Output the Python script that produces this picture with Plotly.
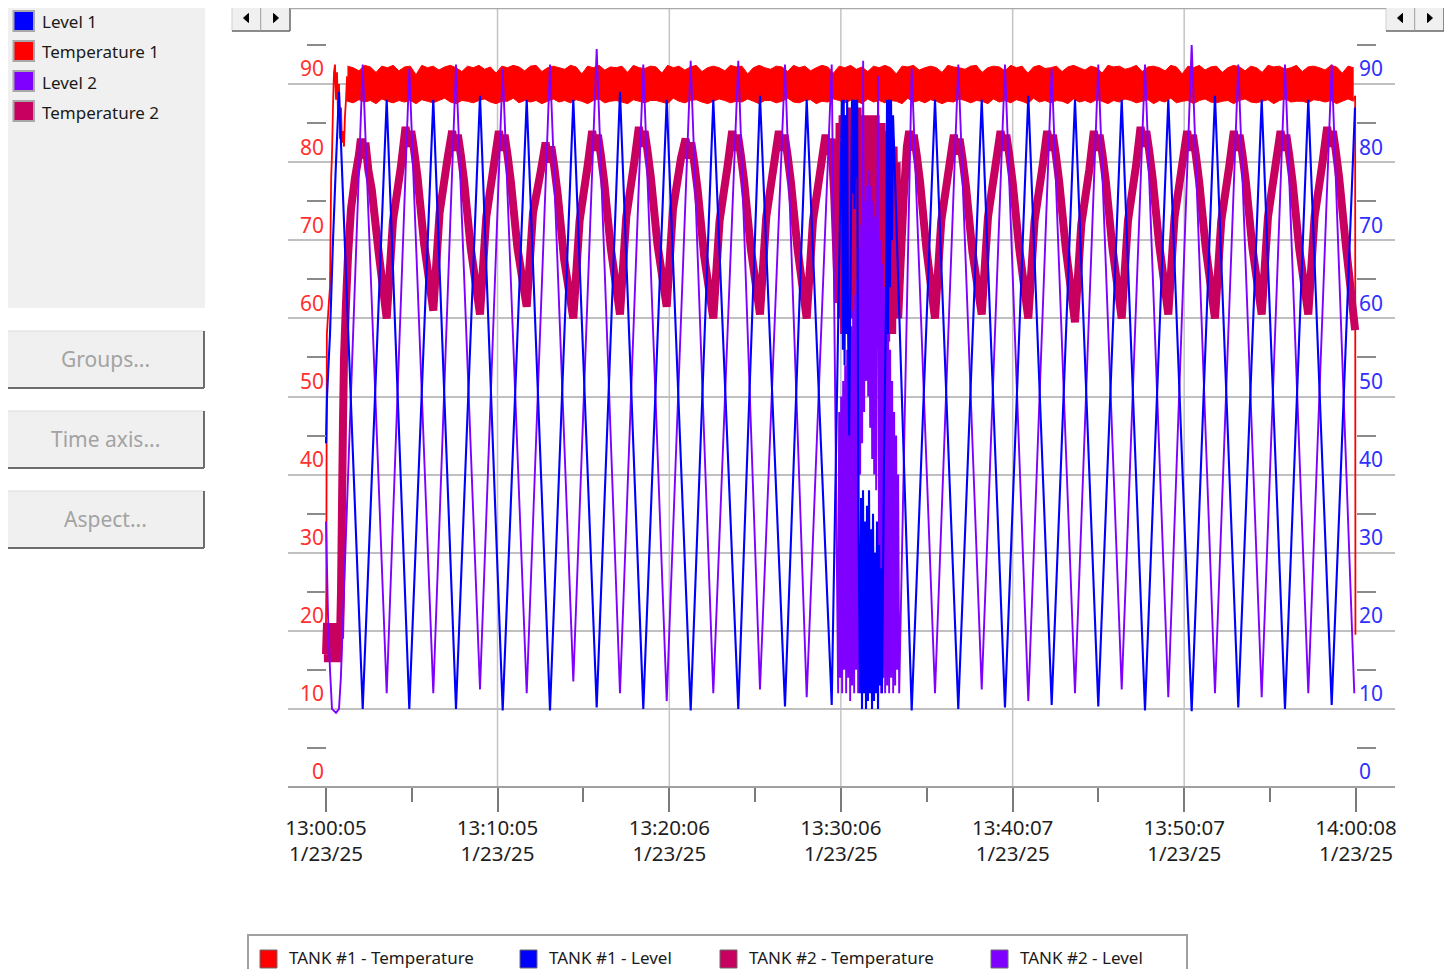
import plotly.graph_objects as go
import pandas as pd

# ---------------- data ----------------
BASE_TIME = pd.Timestamp("2025-01-23 13:00:05")

tick_secs = [0, 600, 1201, 1801, 2402, 3002, 3603]
tick_clock = ["13:00:05", "13:10:05", "13:20:06", "13:30:06", "13:40:07", "13:50:07", "14:00:08"]
tick_date = "1/23/25"
minor_tick_secs = [300, 900.5, 1501, 2101.5, 2702, 3302.5]
y_ticks = [0, 10, 20, 30, 40, 50, 60, 70, 80, 90]
y_minor_ticks = [5, 15, 25, 35, 45, 55, 65, 75, 85, 95]

panel_names = ["Level 1", "Temperature 1", "Level 2", "Temperature 2"]
bottom_names = ["TANK #1 - Temperature", "TANK #1 - Level", "TANK #2 - Temperature", "TANK #2 - Level"]
button_labels = ["Groups...", "Time axis...", "Aspect..."]

# Level 1 (seconds after 13:00:05, value)
level1_samples = [
    (0, 44), (3.5, 50), (14, 58), (24.5, 70), (35, 80), (45.5, 89),
    (128.4, 10), (212.3, 88), (291.4, 10), (375.3, 88), (454.7, 10), (538.7, 88.5),
    (618.1, 9.8), (702.1, 88), (783.6, 9.8), (865.1, 88), (946.9, 10.2), (1028.4, 89),
    (1109.9, 10), (1191.8, 88), (1275.7, 9.8), (1354.8, 88), (1442.2, 10), (1518.1, 88.5),
    (1605.6, 10.3), (1681.5, 88), (1769.0, 10.5),
    (1805, 88), (1808, 56), (1811, 88), (1814, 54), (1817, 86), (1820, 58), (1823, 88), (1826, 60),
    (1830, 45), (1840, 88), (1843, 76), (1846, 88), (1849, 74), (1852, 88), (1855, 78), (1858, 88),
    (1862, 36), (1868, 12), (1871.5, 37), (1875, 10),
    (1878.5, 38), (1882, 12), (1885.5, 34), (1889, 10), (1892.5, 36), (1896, 11), (1899.5, 38),
    (1903, 12), (1906.5, 33), (1910, 10), (1913.5, 35), (1917, 11), (1920.5, 30), (1924, 12),
    (1927.5, 34), (1931, 10), (1934.5, 31), (1938, 13), (1941.5, 28), (1945, 12), (1952, 42),
    (1959, 62), (1962.5, 88), (1966, 58), (1969.5, 88), (1973, 64), (1976.5, 88), (1980, 70),
    (1983.5, 86),
    (2048.8, 9.8), (2130.3, 88), (2211.8, 10), (2293.7, 88), (2375.1, 10.2), (2456.7, 88.5),
    (2538.5, 10.5), (2620.0, 88), (2701.5, 10.3), (2783.4, 88), (2864.9, 9.8), (2946.4, 88),
    (3028.2, 9.7), (3109.7, 88.5), (3191.2, 10.2), (3273.1, 88), (3354.6, 10), (3436.1, 88),
    (3518.0, 10.5), (3599.5, 87),
]

# Level 2
level2_samples = [
    (0, 34), (7, 22), (14, 15), (21, 10), (35, 9.5), (45.5, 10), (52, 14),
    (128.4, 92.5), (212.3, 12), (291.4, 92), (375.3, 12), (454.7, 92.5), (538.7, 12.5),
    (618.1, 92), (702.1, 12), (783.6, 92.5), (865.1, 13.5), (946.9, 94.5), (1028.4, 12),
    (1109.9, 92.5), (1191.8, 11), (1275.7, 93), (1354.8, 12), (1442.2, 93), (1518.1, 12.5),
    (1605.6, 92.5), (1681.5, 11.5), (1769.0, 92.5),
    (1784, 40), (1791.5, 12), (1795, 48), (1798.5, 14), (1802, 50), (1805.5, 12), (1809, 52),
    (1812.5, 15), (1816, 54), (1819.5, 12), (1823, 56), (1826.5, 14), (1830, 57), (1833.5, 11),
    (1837, 59), (1840.5, 13), (1844, 61), (1847.5, 12), (1851, 63), (1854.5, 15), (1858, 65),
    (1861.5, 12), (1865, 69), (1868.5, 40), (1872, 72), (1875.5, 44), (1879, 93), (1882.5, 48),
    (1886, 75), (1889.5, 52), (1893, 77), (1896.5, 50), (1900, 79), (1903.5, 46), (1907, 77),
    (1910.5, 42), (1914, 75), (1917.5, 40), (1921, 73), (1924.5, 38), (1928, 72), (1931.5, 91),
    (1935, 15), (1938.5, 70), (1942, 12), (1945.5, 67), (1949, 14), (1952.5, 64), (1956, 12),
    (1959.5, 62), (1963, 13), (1966.5, 60), (1970, 12), (1973.5, 56), (1977, 14), (1980.5, 52),
    (1984, 12), (1987.5, 48), (1991, 13), (1994.5, 45), (1998, 15), (2001.5, 40), (2005, 12),
    (2048.8, 92), (2130.3, 12), (2211.8, 92.5), (2293.7, 12.5), (2375.1, 92.5), (2456.7, 11),
    (2538.5, 92), (2620.0, 12), (2701.5, 92.5), (2783.4, 12.5), (2864.9, 92.5), (2946.4, 11.5),
    (3028.2, 95), (3109.7, 12), (3191.2, 92.5), (3273.1, 11.5), (3354.6, 92.5), (3436.1, 12),
    (3518.0, 92.5), (3597, 12),
]

# Temperature 2
temp2_samples = [
    (0, 17), (3.5, 21), (7, 16), (10.5, 20.5), (14, 16), (17.5, 21), (21, 16.5), (24.5, 20),
    (28, 16), (31.5, 21), (35, 17), (38.5, 20.5), (42, 16), (45.5, 21), (49, 19), (52.5, 25),
    (56, 36), (59.5, 47), (63, 55), (70, 62), (77, 68), (87.5, 74), (101.5, 78), (115.5, 81),
    (122, 83), (130, 80.5), (138, 82.5), (148, 79), (160, 76.5), (184, 68.5),
    (212.3, 60), (234.3, 72.5), (262.3, 79.5), (278.3, 84.5), (288.3, 82), (298.3, 84), (308.3, 81.5), (320.3, 78), (343.3, 69.5),
    (375.3, 61), (397.3, 73.5), (425.3, 80.5), (441.3, 84), (451.3, 81.5), (461.3, 83.5), (471.3, 81), (483.3, 77.5), (506.3, 69),
    (538.7, 60.5), (560.7, 73), (588.7, 80), (604.7, 84), (614.7, 81.5), (624.7, 83.5), (634.7, 81), (646.7, 77.5), (669.7, 69),
    (702.1, 61.5), (724.1, 73.5), (752.1, 79), (768.1, 82.5), (778.1, 80), (788.1, 82), (798.1, 79.5), (810.1, 76), (833.1, 67.5),
    (865.1, 60), (887.1, 72.5), (915.1, 79.5), (931.1, 84), (941.1, 81.5), (951.1, 83.5), (961.1, 81), (973.1, 77.5), (996.1, 69),
    (1028.4, 60.5), (1050.4, 73), (1078.4, 80), (1094.4, 84.5), (1104.4, 82), (1114.4, 84), (1124.4, 81.5), (1136.4, 78), (1159.4, 69.5),
    (1191.8, 61.5), (1213.8, 74), (1241.8, 80.5), (1257.8, 83), (1267.8, 80.5), (1277.8, 82.5), (1287.8, 80), (1299.8, 76.5), (1322.8, 68),
    (1354.8, 60), (1376.8, 72.5), (1404.8, 79.5), (1420.8, 84), (1430.8, 81.5), (1440.8, 83.5), (1450.8, 81), (1462.8, 77.5), (1485.8, 69),
    (1518.1, 60.5), (1540.1, 73), (1568.1, 80), (1584.1, 84), (1594.1, 81.5), (1604.1, 83.5), (1614.1, 81), (1626.1, 77.5), (1649.1, 69),
    (1681.5, 60), (1703.5, 72.5), (1731.5, 79.5), (1747.5, 83.5), (1757.5, 81), (1767.5, 83), (1777.5, 76),
    (1791.5, 62), (1796.5, 85), (1802, 60), (1807, 86), (1812.5, 58), (1817.5, 86), (1823, 62), (1828, 86),
    (1833.5, 60), (1838.5, 87), (1844, 63), (1849, 86), (1854.5, 61), (1859.5, 87), (1865, 64), (1870, 86),
    (1875.5, 62), (1880.5, 86), (1886, 66), (1891, 86), (1896.5, 63), (1901.5, 86), (1907, 60), (1912, 85),
    (1917.5, 62), (1922.5, 86), (1928, 59), (1933, 85), (1938.5, 63), (1943.5, 85), (1949, 60), (1954, 84),
    (1959.5, 57), (1964.5, 84), (1970, 61), (1975, 83), (1980.5, 58), (1985.5, 82), (1991, 62), (1996, 80),
    (2001.5, 60), (2008.5, 66),
    (2020, 75), (2032, 82), (2040, 84), (2048, 81.5), (2056, 83.5), (2066, 81), (2078, 77.5), (2100, 69),
    (2130.3, 60), (2152.3, 72.5), (2180.3, 79.5), (2196.3, 83.5), (2206.3, 81), (2216.3, 83), (2226.3, 80.5), (2238.3, 77), (2261.3, 68.5),
    (2293.7, 60.5), (2315.7, 73), (2343.7, 80), (2359.7, 84), (2369.7, 81.5), (2379.7, 83.5), (2389.7, 81), (2401.7, 77.5), (2424.7, 69),
    (2456.7, 60), (2478.7, 72.5), (2506.7, 79.5), (2522.7, 84), (2532.7, 81.5), (2542.7, 83.5), (2552.7, 81), (2564.7, 77.5), (2587.7, 69),
    (2620.0, 59.5), (2642, 72), (2670, 79), (2686, 84), (2696, 81.5), (2706, 83.5), (2716, 81), (2728, 77.5), (2751, 69),
    (2783.4, 60), (2805.4, 72.5), (2833.4, 79.5), (2849.4, 84.5), (2859.4, 82), (2869.4, 84), (2879.4, 81.5), (2891.4, 78), (2914.4, 69.5),
    (2946.4, 60.5), (2968.4, 73), (2996.4, 80), (3012.4, 84), (3022.4, 81.5), (3032.4, 83.5), (3042.4, 81), (3054.4, 77.5), (3077.4, 69),
    (3109.7, 60), (3131.7, 72.5), (3159.7, 79.5), (3175.7, 84), (3185.7, 81.5), (3195.7, 83.5), (3205.7, 81), (3217.7, 77.5), (3240.7, 69),
    (3273.1, 60.5), (3295.1, 73), (3323.1, 80), (3339.1, 84), (3349.1, 81.5), (3359.1, 83.5), (3369.1, 81), (3381.1, 77.5), (3404.1, 69),
    (3436.1, 60.5), (3458.1, 73), (3486.1, 80), (3502.1, 84.5), (3512.1, 82), (3522.1, 84), (3532.1, 81.5), (3544.1, 78), (3567.1, 69.5),
    (3600, 58.5),
]

# Temperature 1: start-up, steady band (sampled every 20 s), shutdown
temp1_start = [
    (0, 21), (1, 25), (3, 58), (10, 62), (14, 64), (18, 78), (21, 81), (25, 88), (28, 91.5),
    (31.5, 92.5), (35, 88), (38.5, 91.5), (42, 86), (45.5, 90), (49, 83), (52.5, 87), (56, 82.5),
    (59.5, 84), (63, 82), (66.5, 86), (70, 88), (73.5, 91), (75, 87.8),
]
temp1_band_secs = list(range(75, 3600, 20))
temp1_band_high = [
    92.3, 92.1, 91.7, 92.4, 92.2, 91.5, 92.3, 92.1, 92.4, 91.7,
    92.2, 92.3, 91.2, 92.4, 92.1, 92.3, 91.8, 92.2, 92.4, 92.1,
    91.6, 92.3, 92.1, 92.4, 91.9, 92.2, 91.4, 92.3, 92.1, 92.4,
    92.2, 91.7, 92.3, 92.4, 91.6, 92.1, 92.3, 92.1, 91.9, 92.4,
    92.2, 91.3, 92.3, 92.1, 92.4, 91.8, 92.2, 92.1, 92.3, 91.5,
    92.4, 92.1, 92.0, 92.3, 92.2, 91.4, 92.4, 92.1, 92.3, 91.8,
    92.2, 92.4, 91.6, 92.1, 92.3, 92.1, 91.7, 92.4, 92.2, 92.3,
    91.3, 92.1, 92.4, 92.1, 91.9, 92.3, 92.2, 91.6, 92.4, 92.1,
    92.3, 91.7, 92.1, 92.4, 92.2, 91.4, 92.3, 92.1, 92.4, 91.9,
    92.2, 91.6, 92.3, 92.1, 92.4, 92.1, 91.3, 92.3, 92.2, 92.4,
    91.8, 92.1, 92.3, 92.1, 91.5, 92.4, 92.2, 92.1, 91.9, 92.3,
    92.4, 91.5, 92.1, 92.3, 92.2, 91.7, 92.4, 92.1, 92.3, 91.4,
    92.2, 92.4, 92.0, 92.1, 92.3, 91.6, 92.2, 92.4, 92.1, 91.8,
    92.3, 92.1, 91.4, 92.4, 92.2, 92.3, 91.9, 92.1, 92.4, 91.6,
    92.2, 92.3, 92.1, 91.7, 92.4, 92.2, 91.3, 92.3, 92.1, 92.4,
    91.8, 92.2, 92.3, 91.5, 92.1, 92.4, 92.2, 91.7, 92.3, 92.1,
    91.5, 92.4, 92.2, 92.3, 91.9, 92.1, 92.4, 91.6, 92.2, 92.3,
    92.1, 91.8, 92.4, 92.2, 91.4, 92.3, 92.1,
]
temp1_band_low = [
    87.8, 87.6, 88.0, 87.7, 87.9, 87.5, 88.1, 87.8, 87.6, 87.9,
    87.7, 87.9, 87.5, 88.0, 87.8, 87.6, 87.9, 88.2, 87.7, 87.5,
    87.9, 87.8, 87.6, 87.9, 88.1, 87.7, 87.5, 87.8, 87.8, 88.2,
    87.6, 87.9, 87.7, 87.9, 87.5, 87.8, 88.1, 87.7, 87.9, 87.6,
    88.0, 87.8, 87.5, 87.9, 88.1, 87.6, 87.8, 87.9, 87.7, 87.5,
    88.0, 87.8, 87.6, 87.9, 87.9, 87.7, 87.5, 88.2, 87.8, 87.6,
    87.9, 88.0, 87.7, 87.5, 87.8, 88.1, 87.9, 87.6, 87.8, 87.7,
    88.1, 87.8, 87.5, 87.9, 87.9, 87.6, 87.8, 88.2, 87.7, 87.6,
    87.9, 88.0, 87.5, 87.8, 87.7, 88.1, 87.9, 87.6, 87.9, 87.8,
    87.5, 88.1, 87.7, 87.9, 87.6, 87.9, 87.8, 87.5, 88.2, 87.7,
    87.9, 87.6, 88.0, 87.8, 87.5, 87.8, 87.7, 88.1, 87.9, 87.6,
    87.9, 87.8, 87.5, 88.1, 87.7, 87.9, 87.6, 88.0, 87.8, 87.5,
    88.2, 87.7, 87.9, 87.6, 87.9, 87.8, 87.5, 88.1, 87.7, 87.9,
    87.6, 88.0, 87.8, 87.5, 87.9, 87.7, 88.1, 87.9, 87.6, 87.8,
    88.0, 87.5, 87.9, 87.7, 88.2, 87.6, 87.8, 87.9, 87.5, 87.9,
    88.1, 87.7, 87.6, 87.8, 87.9, 87.5, 87.9, 88.1, 87.7, 87.6,
    87.8, 88.0, 87.5, 87.9, 88.1, 87.7, 87.8, 87.8, 87.6, 88.0,
    87.9, 87.7, 87.9, 87.5, 87.8, 88.1, 87.8,
]
temp1_end = [(3595, 88.0), (3600, 88.5), (3601, 19.5)]

# ---------------- styling ----------------
BLUE, RED, PURPLE, MAGENTA = "#0000FF", "#FF0000", "#8000FF", "#C80060"
FONT = "Noto Sans"

OFF = 8                      # page margin of the html body
FIG_W, FIG_H = 1452 - 2 * OFF, 977 - 2 * OFF
L, R, T, B = 288, 1395, 8, 787   # plot area in page pixels
SEC_PER_PX = 3603 / 1030.0
X0_PX = 326


def ts(secs):
    return [BASE_TIME + pd.Timedelta(seconds=float(s)) for s in secs]


def split(samples):
    return ts([s for s, _ in samples]), [v for _, v in samples]


def px(x):
    return (x - L) / (R - L)


def py(y):
    return (B - y) / (B - T)


fig = go.Figure()

# Temperature 1 (red)
x, y = split(temp1_start)
fig.add_trace(go.Scatter(x=x, y=y, mode="lines", line=dict(color=RED, width=1.8, simplify=False),
                         hoverinfo="skip", yaxis="y"))
fig.add_trace(go.Scatter(x=ts(temp1_band_secs), y=temp1_band_low, mode="lines",
                         line=dict(color=RED, width=1, simplify=False), hoverinfo="skip", yaxis="y"))
fig.add_trace(go.Scatter(x=ts(temp1_band_secs), y=temp1_band_high, mode="lines", fill="tonexty",
                         fillcolor=RED, line=dict(color=RED, width=1, simplify=False),
                         hoverinfo="skip", yaxis="y"))
x, y = split(temp1_end)
fig.add_trace(go.Scatter(x=x, y=y, mode="lines", line=dict(color=RED, width=1.8, simplify=False),
                         hoverinfo="skip", yaxis="y"))

# Temperature 2 (magenta)
x, y = split(temp2_samples)
fig.add_trace(go.Scatter(x=x, y=y, mode="lines", name="Temperature 2",
                         line=dict(color=MAGENTA, width=8, simplify=False), hoverinfo="skip", yaxis="y"))

# Level 2 (purple) and Level 1 (blue)
x, y = split(level2_samples)
fig.add_trace(go.Scatter(x=x, y=y, mode="lines", name="Level 2",
                         line=dict(color=PURPLE, width=1.9, simplify=False), hoverinfo="skip", yaxis="y2"))
x, y = split(level1_samples)
fig.add_trace(go.Scatter(x=x, y=y, mode="lines", name="Level 1",
                         line=dict(color=BLUE, width=2.1, simplify=False), hoverinfo="skip", yaxis="y2"))

x_left = -(X0_PX - L) * SEC_PER_PX
x_right = 3603 + (R - 1356) * SEC_PER_PX
y_top = (B - T) / 7.81

fig.update_layout(
    width=FIG_W, height=FIG_H,
    margin=dict(l=L - OFF, r=FIG_W - (R - OFF), t=T - OFF, b=FIG_H - (B - OFF), pad=0),
    paper_bgcolor="white", plot_bgcolor="white", showlegend=False,
    font=dict(family=FONT),
    xaxis=dict(
        type="date", range=ts([x_left, x_right]),
        tickmode="array", tickvals=ts(tick_secs),
        ticktext=[f"{c}<br>{tick_date}" for c in tick_clock],
        ticks="outside", ticklen=24, tickwidth=1.5, tickcolor="#7A7A7A",
        tickfont=dict(family=FONT, size=20.5, color="#1E1E1E"),
        ticklabelstandoff=-2,
        showgrid=False, zeroline=False, showline=False,
        minor=dict(tickmode="array", tickvals=ts(minor_tick_secs), ticks="outside",
                   ticklen=14, tickwidth=1.5, tickcolor="#7A7A7A", showgrid=False),
    ),
    yaxis=dict(
        range=[0, y_top], tickmode="array", tickvals=y_ticks, ticktext=[str(v) for v in y_ticks],
        anchor="free", position=px(326), side="left",
        ticks="", showgrid=True, gridcolor="#C0C0C0", gridwidth=1.5,
        zeroline=True, zerolinecolor="#A0A0A0", zerolinewidth=2, showline=False,
        tickfont=dict(family=FONT, size=21, color="#FF3030"),
        ticklabelshift=-15, ticklabelstandoff=2,
        minor=dict(tickmode="array", tickvals=y_minor_ticks, ticks="outside", ticklen=19,
                   tickwidth=1.5, tickcolor="#8A8A8A", showgrid=False),
    ),
    yaxis2=dict(
        range=[0, y_top], overlaying="y", side="right", anchor="free", position=px(1356),
        tickmode="array", tickvals=y_ticks, ticktext=[str(v) for v in y_ticks],
        ticks="", showgrid=False, zeroline=False, showline=False,
        tickfont=dict(family=FONT, size=21, color="#3030FF"),
        ticklabelshift=-15, ticklabelstandoff=2,
        minor=dict(tickmode="array", tickvals=y_minor_ticks, ticks="outside", ticklen=19,
                   tickwidth=1.5, tickcolor="#8A8A8A", showgrid=False),
    ),
)

shapes = []
annotations = []


def rect(x0, y0, x1, y1, fill, line_color=None, lw=0):
    shapes.append(dict(type="rect", xref="paper", yref="paper", x0=px(x0), x1=px(x1),
                       y0=py(y1), y1=py(y0), fillcolor=fill,
                       line=dict(color=line_color or fill, width=lw), layer="above"))


def seg(x0, y0, x1, y1, color, lw):
    shapes.append(dict(type="line", xref="paper", yref="paper", x0=px(x0), x1=px(x1),
                       y0=py(y0), y1=py(y1), line=dict(color=color, width=lw), layer="above"))


def text(x, y, s, size, color, anchor="left"):
    annotations.append(dict(xref="paper", yref="paper", x=px(x), y=py(y), text=s, showarrow=False,
                            xanchor=anchor, yanchor="middle",
                            font=dict(family=FONT, size=size, color=color)))


# vertical grid lines at interior time ticks
for s in tick_secs[1:-1]:
    shapes.append(dict(type="line", xref="x", yref="paper", x0=ts([s])[0], x1=ts([s])[0],
                       y0=0, y1=1, line=dict(color="#C4C4C4", width=1.5), layer="below"))

# left legend panel
rect(5, 3, 205, 308, "#F0F0F0")
for i, (name, col) in enumerate(zip(panel_names, [BLUE, RED, PURPLE, MAGENTA])):
    cy = 21 + 30 * i
    rect(13.5, cy - 10, 34, cy + 10, col, "#A8A8A8", 2)
    text(40, cy + 1, name, 17, "#1A1A1A")

# buttons
for i, lab in enumerate(button_labels):
    y0 = 331 + 80 * i
    rect(6, y0, 204, y0 + 57, "#F0F0F0", "#DADADA", 1)
    seg(6, y0 + 57, 204, y0 + 57, "#6D6D6D", 2)
    seg(204, y0, 204, y0 + 57, "#6D6D6D", 2)
    text(105, y0 + 28, lab, 21, "#A3A3A3", anchor="center")

# scroll buttons
for x0, direction in [(232, -1), (261, 1), (1386, -1), (1415, 1)]:
    rect(x0, 5, x0 + 29, 31, "#F0F0F0", "#D0D0D0", 1)
    seg(x0, 31, x0 + 29, 31, "#6D6D6D", 1.5)
    seg(x0 + 29, 5, x0 + 29, 31, "#6D6D6D", 1.5)
    cx = x0 + 14.5
    tip = cx + 3 * direction
    base = cx - 2 * direction
    path = (f"M {px(tip)},{py(18)} L {px(base)},{py(13.5)} L {px(base)},{py(22.5)} Z")
    shapes.append(dict(type="path", xref="paper", yref="paper", path=path,
                       fillcolor="#000000", line=dict(color="#000000", width=1), layer="above"))

# top frame line
seg(290, 8.5, 1386, 8.5, "#A8A8A8", 1.5)

# bottom legend box
seg(247, 935, 1188, 935, "#A0A0A0", 2)
seg(248, 935, 248, 990, "#A0A0A0", 2)
seg(1187, 935, 1187, 990, "#A0A0A0", 2)
for name, col, sx in zip(bottom_names, [RED, BLUE, MAGENTA, PURPLE], [260, 520, 720, 991]):
    rect(sx, 950, sx + 17, 968, col, "#6A6A6A", 1)
    text(sx + 27, 957, name, 17, "#1A1A1A")

fig.update_layout(shapes=shapes, annotations=annotations)

fig.write_html("out.html")
